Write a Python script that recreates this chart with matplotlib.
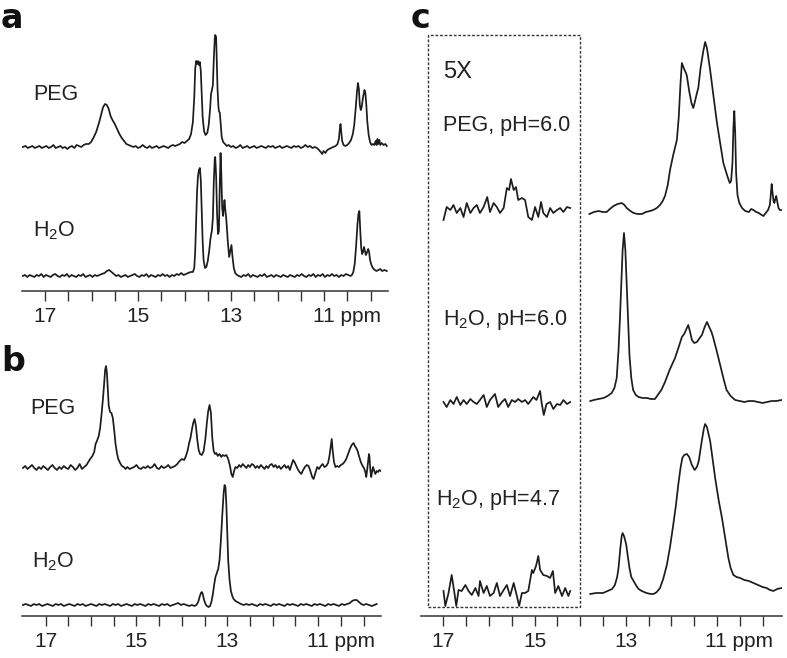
import numpy as np
import matplotlib
matplotlib.use('Agg')
import matplotlib.pyplot as plt
import matplotlib.transforms as mtransforms
from matplotlib.patches import Rectangle

plt.rcParams['font.family'] = ['Liberation Sans', 'DejaVu Sans']
plt.rcParams['mathtext.fontset'] = 'custom'
plt.rcParams['mathtext.rm'] = 'Liberation Sans'

# ---- panel a : PEG ----
a_peg_ppm = [17.48, 17.42, 17.37, 17.32, 17.27, 17.22, 17.17, 17.12, 17.07, 17.02, 16.97, 16.92, 16.87, 16.82,
             16.77, 16.72, 16.67, 16.62, 16.57, 16.52, 16.47, 16.42, 16.37, 16.32, 16.27, 16.22, 16.17, 16.12,
             16.06, 16.01, 15.96, 15.90, 15.84, 15.79, 15.75, 15.71, 15.67, 15.63, 15.59, 15.55, 15.50, 15.45,
             15.40, 15.35, 15.30, 15.25, 15.20, 15.15, 15.10, 15.05, 15.00, 14.95, 14.90, 14.85, 14.80, 14.75,
             14.70, 14.65, 14.60, 14.55, 14.50, 14.45, 14.40, 14.35, 14.30, 14.25, 14.20, 14.15, 14.10, 14.05,
             14.00, 13.95, 13.90, 13.86, 13.82, 13.79, 13.77, 13.75, 13.73, 13.71, 13.69, 13.67, 13.65, 13.63,
             13.61, 13.58, 13.55, 13.51, 13.48, 13.45, 13.43, 13.41, 13.39, 13.37, 13.35, 13.34, 13.32, 13.31,
             13.29, 13.27, 13.26, 13.24, 13.22, 13.20, 13.17, 13.13, 13.09, 13.05, 13.00, 12.95, 12.90, 12.85,
             12.80, 12.75, 12.70, 12.65, 12.60, 12.55, 12.50, 12.45, 12.40, 12.35, 12.30, 12.25, 12.20, 12.15,
             12.10, 12.05, 12.00, 11.95, 11.90, 11.85, 11.80, 11.75, 11.70, 11.65, 11.60, 11.55, 11.50, 11.45,
             11.40, 11.35, 11.30, 11.25, 11.20, 11.15, 11.11, 11.07, 11.04, 11.01, 10.97, 10.93, 10.89, 10.85,
             10.80, 10.75, 10.71, 10.68, 10.66, 10.645, 10.63, 10.61, 10.58, 10.54, 10.50, 10.46, 10.42, 10.38,
             10.35, 10.32, 10.29, 10.27, 10.25, 10.23, 10.21, 10.19, 10.16, 10.13, 10.11, 10.09, 10.07, 10.04,
             10.01, 9.98, 9.95, 9.92, 9.89, 9.87, 9.85, 9.83, 9.81, 9.79, 9.76, 9.72, 9.68, 9.65]
a_peg_int = [0, 1, -1, 0, 1, -1, 0, 1, -1, 0, 1, -1, 0, 2,
             -1, 0, 1, -1, 0, -2, 0, 1, -1, 2, 1, 0, 2, 3,
             3, 5, 9, 15, 24, 33, 40, 43, 42, 38, 31, 27, 23, 18,
             13, 9, 6, 3, 2, 1, 0, 1, -1, 0, 2, 0, -1, 1,
             -1, 0, 1, -1, 0, 1, 0, -1, 1, 2, 1, 2, 3, 5,
             4, 6, 8, 13, 25, 50, 78, 86, 83, 86, 82, 85, 76, 52,
             30, 16, 12, 14, 22, 38, 53, 57, 62, 88, 108, 112, 110, 92,
             58, 40, 36, 34, 22, 10, 5, 3, 1, 2, 0, 1, -1, 0,
             2, -1, 0, 1, -1, 0, 1, -1, 0, 1, 0, -1, 1, 0,
             1, -1, 0, 1, -1, 0, 1, 0, -1, 1, 0, 1, -1, 0,
             2, 0, 1, -1, 0, -1, -3, -5, -7, -4, -6, -3, -2, -1,
             0, 1, 3, 8, 18, 23, 16, 6, 2, 1, 2, 4, 7, 13,
             22, 38, 56, 64, 58, 42, 37, 40, 50, 57, 54, 42, 26, 12,
             5, 2, 3, 2, 6, 2, 8, 3, 7, 2, 4, 2, 3, 1]

# ---- panel a : H2O ----
a_h2o_ppm = [17.48, 17.43, 17.38, 17.33, 17.28, 17.23, 17.18, 17.13, 17.08, 17.03, 16.98, 16.93, 16.88, 16.83,
             16.78, 16.73, 16.68, 16.63, 16.58, 16.53, 16.48, 16.43, 16.38, 16.33, 16.28, 16.23, 16.18, 16.13,
             16.08, 16.03, 15.98, 15.93, 15.88, 15.83, 15.78, 15.72, 15.67, 15.62, 15.57, 15.52, 15.47, 15.42,
             15.37, 15.32, 15.27, 15.22, 15.17, 15.12, 15.07, 15.02, 14.97, 14.92, 14.87, 14.82, 14.77, 14.72,
             14.67, 14.62, 14.57, 14.52, 14.47, 14.42, 14.37, 14.32, 14.27, 14.22, 14.17, 14.12, 14.07, 14.02,
             13.97, 13.92, 13.87, 13.82, 13.79, 13.77, 13.75, 13.73, 13.71, 13.69, 13.67, 13.65, 13.63, 13.61,
             13.59, 13.56, 13.53, 13.50, 13.47, 13.44, 13.41, 13.39, 13.37, 13.35, 13.34, 13.32, 13.30, 13.28,
             13.26, 13.24, 13.225, 13.21, 13.19, 13.17, 13.15, 13.14, 13.12, 13.10, 13.07, 13.04, 13.02, 12.99,
             12.97, 12.94, 12.91, 12.87, 12.83, 12.78, 12.73, 12.68, 12.63, 12.58, 12.53, 12.48, 12.43, 12.38,
             12.33, 12.28, 12.23, 12.18, 12.13, 12.08, 12.03, 11.98, 11.93, 11.88, 11.83, 11.78, 11.73, 11.68,
             11.63, 11.58, 11.53, 11.48, 11.43, 11.38, 11.33, 11.28, 11.23, 11.18, 11.13, 11.08, 11.03, 10.98,
             10.93, 10.88, 10.83, 10.78, 10.73, 10.68, 10.63, 10.58, 10.53, 10.48, 10.43, 10.40, 10.37, 10.34,
             10.31, 10.28, 10.26, 10.24, 10.22, 10.20, 10.18, 10.16, 10.14, 10.12, 10.10, 10.08, 10.05, 10.03,
             10.01, 9.98, 9.95, 9.91, 9.87, 9.83, 9.79, 9.75, 9.70, 9.65]
a_h2o_int = [0, 1, -1, 1, 0, -1, 1, 0, 2, -1, 1, 0, -1, 1,
             2, 0, -1, 1, 0, 2, -1, 1, 0, -1, 1, 0, 2, -1,
             0, 1, -1, 1, 0, 1, 2, 3, 5, 6, 4, 2, 0, 1,
             -1, 0, 1, -1, 0, 1, 2, 0, -1, 1, 0, 2, -1, 1,
             0, -1, 1, 0, 2, 0, 1, -1, 1, 0, 2, 1, 3, 1,
             2, 3, 4, 4, 8, 25, 55, 85, 100, 106, 108, 96, 65, 35,
             16, 8, 9, 15, 25, 38, 46, 58, 95, 117, 119, 100, 62, 42,
             45, 95, 123, 105, 68, 60, 72, 76, 65, 56, 35, 19, 24, 31,
             20, 8, 3, 1, 0, -1, 1, 0, 2, -1, 1, 0, -1, 1,
             0, 2, -1, 0, 1, -1, 1, 0, -1, 1, 0, -1, 1, 0,
             -1, 1, 0, 2, 0, -1, 1, 0, 2, -1, 1, 0, 2, -1,
             1, 0, 2, 0, 1, -1, 1, 0, 2, 1, 0, 1, 4, 12,
             30, 52, 62, 65, 45, 28, 22, 24, 29, 25, 21, 23, 27, 24,
             16, 11, 8, 6, 5, 6, 7, 5, 6, 5]

# ---- panel b : PEG ----
b_peg_ppm = [17.50, 17.45, 17.40, 17.35, 17.30, 17.25, 17.20, 17.15, 17.10, 17.05, 17.00, 16.95, 16.90, 16.85,
             16.80, 16.75, 16.70, 16.65, 16.60, 16.55, 16.50, 16.45, 16.40, 16.35, 16.30, 16.25, 16.20, 16.15,
             16.10, 16.06, 16.02, 15.97, 15.93, 15.90, 15.87, 15.83, 15.80, 15.77, 15.74, 15.71, 15.69, 15.67,
             15.65, 15.63, 15.61, 15.58, 15.55, 15.52, 15.49, 15.46, 15.43, 15.40, 15.36, 15.32, 15.28, 15.24,
             15.20, 15.15, 15.10, 15.05, 15.00, 14.95, 14.90, 14.85, 14.80, 14.75, 14.70, 14.65, 14.60, 14.55,
             14.50, 14.45, 14.40, 14.35, 14.30, 14.25, 14.20, 14.15, 14.10, 14.05, 14.00, 13.95, 13.91, 13.87,
             13.84, 13.81, 13.78, 13.75, 13.72, 13.69, 13.66, 13.63, 13.60, 13.56, 13.52, 13.48, 13.45, 13.42,
             13.39, 13.36, 13.33, 13.30, 13.27, 13.24, 13.21, 13.17, 13.13, 13.10, 13.06, 13.02, 12.98, 12.94,
             12.91, 12.88, 12.85, 12.82, 12.78, 12.74, 12.70, 12.66, 12.62, 12.58, 12.54, 12.50, 12.46, 12.42,
             12.38, 12.34, 12.30, 12.26, 12.22, 12.18, 12.14, 12.10, 12.06, 12.02, 11.98, 11.94, 11.90, 11.86,
             11.82, 11.78, 11.74, 11.70, 11.66, 11.62, 11.58, 11.55, 11.52, 11.48, 11.45, 11.41, 11.37, 11.33,
             11.29, 11.25, 11.21, 11.17, 11.13, 11.10, 11.06, 11.02, 10.98, 10.94, 10.90, 10.86, 10.82, 10.78,
             10.75, 10.72, 10.70, 10.68, 10.65, 10.62, 10.58, 10.54, 10.50, 10.46, 10.42, 10.38, 10.34, 10.30,
             10.26, 10.22, 10.19, 10.16, 10.13, 10.10, 10.06, 10.02, 9.99, 9.96, 9.94, 9.92, 9.90, 9.88,
             9.87, 9.85, 9.83, 9.81, 9.79, 9.77, 9.74, 9.71, 9.68, 9.65, 9.62]
b_peg_int = [0, 2, -1, 1, 3, 0, -2, 1, -1, 2, 0, -2, 1, 3,
             0, -2, 1, -1, 2, 0, -1, 3, 1, -2, 0, 4, -1, 1,
             3, 6, 9, 12, 16, 24, 27, 32, 40, 53, 68, 85, 98, 102,
             95, 78, 62, 56, 55, 50, 38, 24, 15, 9, 5, 2, 1, -1,
             1, -1, 0, 1, 3, 0, -1, 1, 0, 2, 0, 1, 4, 0,
             -1, 2, 0, 1, 3, 0, 1, 2, 4, 7, 9, 8, 12, 18,
             25, 30, 38, 45, 49, 42, 28, 18, 14, 13, 17, 30, 45, 57,
             63, 55, 30, 17, 14, 15, 12, 14, 11, 13, 12, 13, 9, 2,
             -6, -9, -3, 1, 0, 3, 1, 4, 2, 0, 3, 1, 4, 3,
             0, 2, 0, 3, 1, -1, 2, 0, 3, 4, 1, 3, 0, 2,
             -1, 1, 3, 0, 2, -2, 4, 8, 6, 2, -1, -4, -6, -2,
             1, 3, 2, -3, -9, -11, -5, 1, -1, 2, 4, 1, 2, 5,
             12, 22, 29, 18, 6, 1, 2, 1, 3, 4, 6, 9, 14, 19,
             23, 25, 22, 20, 17, 12, 6, 2, 0, -4, -9, -2, 6, 14,
             12, -2, -9, -3, 1, -2, -6, -3, -4, -2, -3]

# ---- panel b : H2O ----
b_h2o_ppm = [17.50, 17.44, 17.38, 17.32, 17.26, 17.20, 17.14, 17.08, 17.02, 16.96, 16.90, 16.84, 16.78, 16.72,
             16.66, 16.60, 16.54, 16.48, 16.42, 16.36, 16.30, 16.24, 16.18, 16.12, 16.06, 16.00, 15.94, 15.88,
             15.82, 15.76, 15.70, 15.64, 15.58, 15.52, 15.46, 15.40, 15.34, 15.28, 15.22, 15.16, 15.10, 15.04,
             14.98, 14.92, 14.86, 14.80, 14.74, 14.68, 14.62, 14.56, 14.50, 14.44, 14.38, 14.32, 14.26, 14.20,
             14.14, 14.08, 14.02, 13.96, 13.90, 13.84, 13.78, 13.72, 13.68, 13.64, 13.61, 13.58, 13.56, 13.54,
             13.51, 13.48, 13.45, 13.41, 13.38, 13.35, 13.32, 13.29, 13.26, 13.23, 13.20, 13.17, 13.14, 13.11,
             13.08, 13.06, 13.04, 13.02, 13.00, 12.98, 12.95, 12.92, 12.89, 12.86, 12.82, 12.78, 12.74, 12.70,
             12.64, 12.58, 12.52, 12.46, 12.40, 12.34, 12.28, 12.22, 12.16, 12.10, 12.04, 11.98, 11.92, 11.86,
             11.80, 11.74, 11.68, 11.62, 11.56, 11.50, 11.44, 11.38, 11.32, 11.26, 11.20, 11.14, 11.08, 11.02,
             10.96, 10.90, 10.84, 10.78, 10.72, 10.66, 10.60, 10.54, 10.48, 10.42, 10.36, 10.30, 10.25, 10.20,
             10.15, 10.10, 10.05, 10.00, 9.94, 9.88, 9.82, 9.76, 9.71]
b_h2o_int = [0, 1, 0, -1, 1, 0, 1, -1, 0, 1, 0, -1, 1, 0,
             1, -1, 0, 1, 0, -1, 1, 0, 1, -1, 0, 1, 0, -1,
             1, 0, 1, 0, -1, 1, 0, 1, -1, 0, 1, 0, -1, 1,
             0, 1, 0, -1, 1, 0, 1, 0, -1, 1, 0, 1, -1, 0,
             1, 2, 0, 1, 0, -1, 0, -1, 0, 3, 8, 12, 13, 11,
             5, 1, -1, -2, -1, 3, 10, 20, 28, 32, 36, 45, 65, 90,
             112, 120, 118, 100, 72, 45, 25, 14, 9, 6, 4, 3, 2, 1,
             0, 1, 0, 1, 0, -1, 1, 0, 1, 0, -1, 1, 0, 1,
             0, -1, 1, 0, 1, 0, -1, 1, 0, 1, 0, -1, 1, 0,
             1, 0, -1, 1, 0, 1, 0, -1, 1, 0, 1, 2, 4, 5,
             5, 3, 1, 0, 1, 0, -1, 0, 1]

# ---- panel c : 5X insets (17-14.2 ppm) ----
c_peg_5x_ppm = [17.00, 16.93, 16.85, 16.78, 16.71, 16.63, 16.56, 16.49, 16.41, 16.34, 16.27, 16.20, 16.12, 16.04,
                15.98, 15.90, 15.83, 15.76, 15.68, 15.61, 15.56, 15.52, 15.46, 15.41, 15.36, 15.28, 15.21, 15.14,
                15.06, 14.99, 14.92, 14.86, 14.81, 14.73, 14.66, 14.59, 14.51, 14.44, 14.37, 14.29, 14.22]
c_peg_5x_int = [-10, 3, 0, 5, -3, 2, -7, 7, -3, 2, 5, -3, 3, 13,
                -2, 7, 3, -3, 2, 22, 20, 31, 20, 23, 10, 12, 10, -7,
                -10, 3, -7, 8, -3, -7, 2, -3, 0, 2, -2, 3, 2]

c_h2o6_5x_ppm = [17.00, 16.93, 16.85, 16.78, 16.71, 16.63, 16.56, 16.49, 16.41, 16.34, 16.27, 16.20, 16.12, 16.05,
                 15.98, 15.87, 15.80, 15.72, 15.65, 15.58, 15.50, 15.43, 15.36, 15.28, 15.21, 15.14, 15.03, 14.96,
                 14.88, 14.85, 14.80, 14.74, 14.66, 14.59, 14.51, 14.44, 14.37, 14.29, 14.22]
c_h2o6_5x_int = [0, -5, 2, -2, 5, -3, 2, -2, 3, 0, -2, 2, 7, -5,
                 2, 8, -5, 0, 3, -5, 2, 0, 3, 0, 2, -2, 5, 2,
                 11, 0, -13, -2, 0, -7, -2, -3, 2, -2, 0]

c_h2o47_5x_ppm = [17.00, 16.96, 16.89, 16.82, 16.76, 16.72, 16.67, 16.60, 16.52, 16.45, 16.38, 16.30, 16.23, 16.20,
                  16.12, 16.05, 15.98, 15.90, 15.83, 15.76, 15.68, 15.61, 15.54, 15.46, 15.39, 15.34, 15.28, 15.21,
                  15.14, 15.06, 15.03, 14.97, 14.92, 14.88, 14.81, 14.73, 14.66, 14.60, 14.55, 14.48, 14.40, 14.33,
                  14.26, 14.22]
c_h2o47_5x_int = [2, -13, 0, 18, 0, -13, 3, 2, 8, 2, -2, 5, -3, 12,
                  0, 7, -3, 0, 10, -3, 3, 8, -3, 10, -3, -13, 0, 0,
                  2, 23, 20, 27, 37, 23, 18, 17, 15, 22, 0, 7, -3, 5,
                  -3, 2]

# ---- panel c : full traces (13.8-9.6 ppm) ----
c_peg_ppm = [13.80, 13.70, 13.60, 13.50, 13.42, 13.35, 13.27, 13.18, 13.09, 13.03, 12.98, 12.90, 12.83, 12.74,
             12.65, 12.56, 12.47, 12.40, 12.32, 12.25, 12.19, 12.14, 12.08, 12.03, 11.96, 11.88, 11.84, 11.80,
             11.77, 11.73, 11.68, 11.66, 11.61, 11.56, 11.52, 11.48, 11.44, 11.41, 11.36, 11.30, 11.26, 11.22,
             11.15, 11.08, 11.00, 10.93, 10.86, 10.78, 10.72, 10.69, 10.66, 10.64, 10.62, 10.60, 10.58, 10.55,
             10.51, 10.45, 10.38, 10.30, 10.25, 10.20, 10.14, 10.08, 10.02, 9.98, 9.93, 9.88, 9.84, 9.82,
             9.80, 9.78, 9.76, 9.74, 9.72, 9.70, 9.68, 9.65, 9.62, 9.58]
c_peg_int = [-1, 1, 2, 1, 1, 4, 7, 9, 10, 8, 5, 2, 0, -1,
             -1, 1, 2, 3, 5, 8, 12, 17, 28, 43, 58, 73, 95, 130,
             150, 145, 140, 137, 122, 110, 105, 112, 120, 125, 145, 162, 171, 165,
             143, 118, 90, 70, 50, 38, 30, 32, 50, 85, 102, 80, 40, 18,
             10, 5, 2, 1, 4, 3, 1, 0, -2, -3, 0, 3, 8, 18,
             29, 20, 12, 10, 14, 17, 12, 5, 3, 3]

c_h2o6_ppm = [13.78, 13.70, 13.60, 13.49, 13.40, 13.31, 13.25, 13.20, 13.16, 13.13, 13.10, 13.07, 13.04, 13.01,
              12.98, 12.95, 12.92, 12.88, 12.84, 12.78, 12.72, 12.63, 12.54, 12.45, 12.36, 12.30, 12.22, 12.14,
              12.04, 11.92, 11.84, 11.77, 11.72, 11.68, 11.63, 11.59, 11.55, 11.50, 11.44, 11.38, 11.33, 11.27,
              11.22, 11.18, 11.12, 11.08, 11.00, 10.93, 10.86, 10.79, 10.70, 10.60, 10.50, 10.40, 10.30, 10.20,
              10.10, 10.00, 9.90, 9.80, 9.70, 9.58]
c_h2o6_int = [-1, 0, 1, 2, 4, 7, 12, 22, 50, 80, 115, 150, 167, 150,
              115, 80, 45, 22, 10, 5, 3, 2, 2, 1, 1, 5, 10, 18,
              30, 42, 53, 63, 66, 70, 75, 68, 60, 57, 58, 62, 65, 73,
              78, 74, 68, 62, 48, 35, 22, 10, 4, 0, -1, -2, -1, -1,
              -2, -3, -2, -1, -1, 0]

c_h2o47_ppm = [13.78, 13.65, 13.50, 13.40, 13.30, 13.24, 13.19, 13.16, 13.12, 13.09, 13.07, 13.04, 13.01, 12.99,
               12.96, 12.92, 12.88, 12.83, 12.78, 12.72, 12.65, 12.55, 12.45, 12.39, 12.32, 12.25, 12.18, 12.10,
               12.03, 11.96, 11.90, 11.85, 11.80, 11.76, 11.72, 11.66, 11.61, 11.55, 11.49, 11.44, 11.40, 11.34,
               11.29, 11.26, 11.22, 11.15, 11.09, 11.04, 10.96, 10.89, 10.82, 10.75, 10.70, 10.64, 10.57, 10.49,
               10.40, 10.30, 10.20, 10.10, 10.00, 9.91, 9.84, 9.76, 9.68, 9.58]
c_h2o47_int = [-1, 0, 0, 2, 4, 8, 16, 25, 45, 57, 60, 57, 52, 48,
               38, 25, 16, 12, 8, 4, 2, 0, -1, -1, 1, 5, 14, 28,
               46, 68, 88, 108, 125, 135, 138, 139, 136, 128, 123, 126, 132, 150,
               164, 169, 166, 152, 132, 115, 92, 75, 55, 35, 25, 18, 16, 15,
               13, 12, 10, 8, 6, 5, 3, 2, 4, 5]

ticks = [17, 16.5, 16, 15.5, 15, 14.5, 14, 13.5, 13, 12.5, 12, 11.5, 11, 10.5, 10]
tick_labels = ['17', '', '', '', '15', '', '', '', '13', '', '', '', '11 ppm', '', '']

W, H = 787, 658
fig = plt.figure(figsize=(W / 100, H / 100), dpi=100)
ink = '#1c1c1c'


def make_axes(left, right, top, bottom, xlim):
    ax = fig.add_axes([left / W, (H - bottom) / H, (right - left) / W, (bottom - top) / H])
    ax.set_xlim(*xlim)
    ax.set_ylim(0, bottom - top)
    for s in ['top', 'left', 'right']:
        ax.spines[s].set_visible(False)
    ax.spines['bottom'].set_linewidth(1.1)
    ax.spines['bottom'].set_color('#333333')
    ax.set_yticks([])
    ax.set_xticks(ticks)
    ax.set_xticklabels(tick_labels)
    ax.tick_params(axis='x', direction='out', length=7.2, width=1.0, color='#333333',
                   labelsize=15, labelcolor='#222222', pad=4.2)
    lab = ax.get_xticklabels()[12]
    lab.set_horizontalalignment('left')
    lab.set_transform(lab.get_transform() + mtransforms.ScaledTranslation(-11.5 / 100, 0, fig.dpi_scale_trans))
    ax.patch.set_alpha(0)
    return ax


def trace(ax, ppm, inten, offset):
    ax.plot(ppm, np.array(inten) + offset, color=ink, lw=1.25)


ax_a = make_axes(22, 388, 0, 291, (17.495, 9.624))
trace(ax_a, a_peg_ppm, a_peg_int, 144)
trace(ax_a, a_h2o_ppm, a_h2o_int, 15)

ax_b = make_axes(22, 381, 330, 616, (17.52, 9.615))
trace(ax_b, b_peg_ppm, b_peg_int, 148)
trace(ax_b, b_h2o_ppm, b_h2o_int, 11)

ax_c = make_axes(420.7, 781.7, 0, 616, (17.50, 9.58))
trace(ax_c, c_peg_5x_ppm, c_peg_5x_int, 406)
trace(ax_c, c_peg_ppm, c_peg_int, 403)
trace(ax_c, c_h2o6_5x_ppm, c_h2o6_5x_int, 214)
trace(ax_c, c_h2o6_ppm, c_h2o6_int, 216)
trace(ax_c, c_h2o47_5x_ppm, c_h2o47_5x_int, 23)
trace(ax_c, c_h2o47_ppm, c_h2o47_int, 23)
ax_c.add_patch(Rectangle((17.34, 9), 14.0 - 17.34, 572, fill=False, ec='#333333',
                         lw=1.0, ls=(0, (2, 1.3))))


def ftext(x, y, s, **kw):
    fig.text(x / W, 1 - y / H, s, **kw)


txt = dict(fontsize=15.5, color='#222222', va='center', ha='left')
bold = dict(fontsize=24, fontweight='bold', family='DejaVu Sans', va='baseline', color='#111111')
ftext(1, 27.5, 'a', **bold)
ftext(1, 371, 'b', **bold)
ftext(411, 27.5, 'c', **bold)
ftext(33, 94, 'PEG', **txt)
ftext(33, 231, r'H$_{\mathrm{2}}$O', **txt)
ftext(30, 409, 'PEG', **txt)
ftext(32, 562, r'H$_{\mathrm{2}}$O', **txt)
ftext(443, 72, '5X', fontsize=17, color='#222222', va='center', ha='left')
ftext(443, 125, 'PEG, pH=6.0', **txt)
ftext(443, 320, r'H$_{\mathrm{2}}$O, pH=6.0', **txt)
ftext(436, 500, r'H$_{\mathrm{2}}$O, pH=4.7', **txt)

fig.savefig('out.png', dpi=100)
